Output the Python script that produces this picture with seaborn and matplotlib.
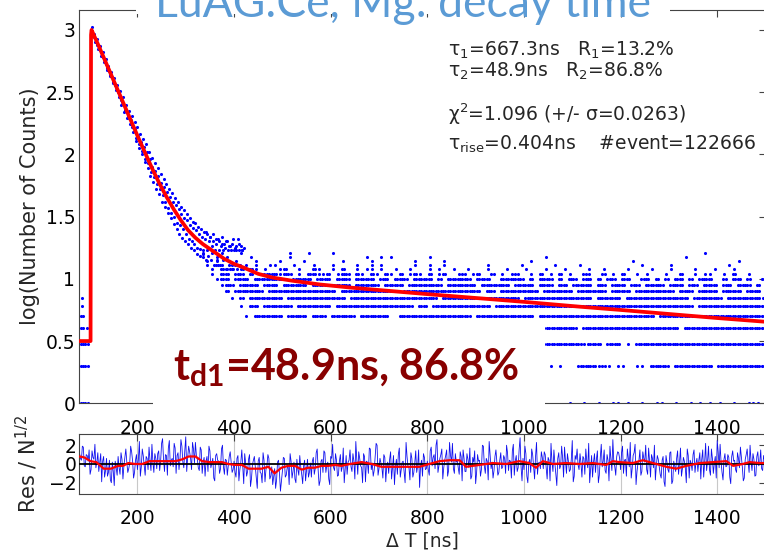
import numpy as np
import matplotlib
matplotlib.use("Agg")
import matplotlib.pyplot as plt
import seaborn as sns
from matplotlib.patches import Rectangle
from matplotlib.ticker import FuncFormatter

# ---- fitted curve (red) ----
fit_t = [80, 103, 104, 105, 120, 140, 160, 180, 200, 215, 230, 245, 260, 275, 290,
         305, 320, 335, 350, 365, 380, 400, 420, 450, 480, 520, 577, 640, 700, 800,
         907, 1000, 1116, 1200, 1323, 1400, 1500]
fit_log = [0.50, 0.50, 2.96, 3.00, 2.87, 2.69, 2.51, 2.33, 2.15, 2.02, 1.89, 1.77, 1.66,
           1.56, 1.47, 1.39, 1.33, 1.28, 1.24, 1.20, 1.16, 1.12, 1.09, 1.04, 1.01, 0.985,
           0.955, 0.93, 0.91, 0.877, 0.844, 0.815, 0.776, 0.75, 0.71, 0.685, 0.655]

# ---- data points in the fast decay (high counts) ----
decay_t = list(range(105, 421, 3))
decay_log = [3.02, 2.96, 2.94, 2.91, 2.88, 2.86, 2.84, 2.80, 2.78, 2.75,
             2.73, 2.69, 2.67, 2.64, 2.62, 2.58, 2.56, 2.54, 2.50, 2.49,
             2.44, 2.42, 2.41, 2.36, 2.35, 2.31, 2.29, 2.28, 2.22, 2.21,
             2.20, 2.13, 2.15, 2.08, 2.10, 2.03, 2.06, 1.96, 2.02, 1.93,
             1.96, 1.86, 1.90, 1.82, 1.87, 1.76, 1.83, 1.72, 1.77, 1.67,
             1.74, 1.62, 1.70, 1.57, 1.66, 1.53, 1.62, 1.50, 1.59, 1.45,
             1.56, 1.43, 1.52, 1.40, 1.49, 1.36, 1.47, 1.32, 1.43, 1.30,
             1.41, 1.28, 1.39, 1.25, 1.36, 1.24, 1.34, 1.23, 1.32, 1.38,
             1.23, 1.30, 1.34, 1.26, 1.30, 1.23, 1.28, 1.32, 1.23, 1.26,
             1.28, 1.23, 1.25, 1.30, 1.23, 1.26, 1.23, 1.28, 1.23, 1.25,
             1.23, 1.32, 1.23, 1.26, 1.23, 1.25]
decay2_t = list(range(107, 421, 3))
decay2_log = [2.95, 2.97, 2.90, 2.93, 2.85, 2.87, 2.79, 2.82, 2.74, 2.77,
              2.68, 2.71, 2.63, 2.66, 2.57, 2.61, 2.52, 2.56, 2.46, 2.51,
              2.40, 2.46, 2.34, 2.40, 2.29, 2.35, 2.24, 2.31, 2.18, 2.26,
              2.11, 2.22, 2.05, 2.16, 2.00, 2.12, 1.94, 2.08, 1.89, 2.02,
              1.83, 1.97, 1.78, 1.93, 1.72, 1.89, 1.68, 1.84, 1.62, 1.80,
              1.58, 1.76, 1.53, 1.72, 1.49, 1.69, 1.44, 1.65, 1.40, 1.62,
              1.36, 1.58, 1.33, 1.55, 1.30, 1.52, 1.28, 1.49, 1.25, 1.46,
              1.23, 1.45, 1.20, 1.42, 1.18, 1.40, 1.20, 1.38, 1.15, 1.36,
              1.18, 1.34, 1.15, 1.36, 1.11, 1.32, 1.15, 1.30, 1.11, 1.34,
              1.15, 1.28, 1.08, 1.30, 1.11, 1.26, 1.08, 1.32, 1.11, 1.26,
              1.08, 1.28, 1.11, 1.23, 1.08]

# ---- low-count levels: occupancy per 10 ns bin starting at 80 ns ----
# '#' = run of points across the bin, ':' = single point, '.' = empty
bin_start, bin_width = 80, 10
level_counts = [1, 2, 3, 4, 5, 6, 7, 8, 9, 10, 11, 12, 13, 14, 15, 16]
E = ".........."
level_rows = [
    ["##........", E, E, ".......:..", ".:........", E, "..:......:", "..:::.....", ":.........", E,
     ".:..:..:..", "::.:..:..:", ":..:..:.:.", ":.:..:..::", ":."],
    ["##........", E, E, E, E, E, E, E, E, ".......:.:",
     "...####:#:", ".::..::.##", "##.#######", "#.########", "##"],
    ["##........", E, E, E, E, E, E, E, E, "......####",
     "####:###.#", "##.:.#####", "##########", "##########", "##"],
    ["#:........", E, E, E, E, E, E, E, E, "......####",
     "###.######", "##########", "####.#####", "##########", "##"],
    ["#.........", E, E, "....:.####", "##.####.##", "#.#####.##", "####..####", "##########", "#.########", "####.#####",
     "##########", "#########.", "##########", "##########", "##"],
    [":.........", E, E, "...:.##.##", "####.#####", "##.#######", "#########.", "##.#######", "#####.####", "##########",
     "###.######", "##########", "#######.##", "##########", "##"],
    [":.........", E, E, ".:.#.#####", "##.#######", "#####.####", "##########", "####.#####", "##########", "#.########",
     "######.###", "##.#######", "######.###", "###.######", "#:"],
    [E, E, E, "#.######.#", "##########", "###.######", "######.###", "##########", "###.##.###", "#####.####",
     "##.######.", "####.#####", "###.###.##", "##.####.##", "#."],
    [E, E, ".........:", "##.####.##", "#.#####.##", "######.###", "##.####.##", "#####.####", "##.######.", "####.###.#",
     "#.####.##.", "###.##.###", "#.###.##.#", "##.##.###.", "#."],
    [E, E, "........:#", "#.###.####", "###.####.#", "##.###.###", "#.##.###.#", "###.#.####", "#.###..###", "##.#.###.#",
     ".##.##.#.#", "#.##..##.#", ".#.##.#.##", "#..#.##.#.", ".#"],
    [E, E, ".......:.#", "#.##.#.:##", "#:##.:.##:", ":#.:##.#:.", "#:.#:.#.:#", ":.#.:#..:#", ".:#..#.:.:", "#..:.#.:.#",
     ".:..#:..#.", ":.#..:.:..", ".:..#..:.:", ":..:.#..:.", ".."],
    [E, E, ".......:.#", ":#.:.#:.:.", ".:#..:..#:", "..:.#..:.:", ":.:..:..:.", "..:.:..:..", ":...:...:.", "..:...:...",
     ":....:..:.", "...:....:.", "..:....:..", ".:...:....", ".."],
    [E, E, "......:.#:", ".:..:.:..:", ":...:...:.", "..:....:..", ":.:......:", "..:..:....", "....:.....", ".:......:.",
     "...:......", "......:...", "..:.......", "....:.....", ".."],
    [E, E, "......:.:.", "..:...:...", ".:....:...", "....:.....", ":........:", ".....:....", E, "...:......",
     E, "....:.....", E, "......:...", ".."],
    [E, E, ".....:..:.", ":....:....", "...:......", ".........:", "..:.:.....", "..:.......", E, "......:...",
     E, E, ".....:....", E, ".."],
    [E, E, ".....:.:.:", "...:......", "...:...:..", "..:.......", E, E, E, E,
     E, E, ".........:", E, ".."],
]

# ---- residuals: two interleaved series, every 4 ns from 80 ns and from 82 ns ----
res_step = 4
res_a_start = 80
res_a = [1.2, 0.4, 1.8, -0.3, 0.9, 1.5, -0.6, 0.7, 2.1, 0.2, -0.8, 1.1, 0.3, -1.4, 0.6, -0.9, -1.7, 0.2, -2.3, -0.4,
         0.8, -1.1, 0.5, -0.2, 1.6, -0.9, 0.1, 1.3, -1.5, 0.4, -0.6, 2.4, -0.3, 0.9, -1.2, 0.6, 1.8, -0.7, 0.2, 1.1,
         -0.5, 1.4, 0.3, 2.7, -0.8, 0.9, 1.7, -0.2, 0.6, 2.2, -1.0, 1.2, 0.4, 1.9, -0.4, 2.9, 0.7, 1.3, -0.6, 1.6,
         2.3, 0.5, -0.7, 1.5, 0.2, -1.3, 0.8, 1.9, -0.4, 0.6, -1.8, 1.1, 0.3, -0.5, 2.0, -1.1, 0.4, -0.2, 1.3, -0.9,
         0.3, -1.4, 0.9, -0.6, 1.5, -2.1, 0.1, -0.8, 1.0, -1.6, 0.4, -0.3, -2.6, 0.7, -1.0, 1.2, -1.9, -0.2, 0.6, -1.3,
         -2.2, -0.5, -1.7, 0.4, -2.9, -0.8, 0.6, -1.2, -0.3, 1.1, -1.5, 0.2, -2.0, -0.6, 0.9, -1.1, -0.2, -1.8, 0.5, -0.9,
         -1.4, 0.7, -0.5, 1.6, -2.3, 0.3, -0.9, 1.2, -0.1, -1.6, 0.8, 2.1, -0.7, 0.4, -1.2, 1.0, -0.3, -2.0, 0.9, 0.2,
         1.5, -0.8, 0.3, 2.4, -1.1, 0.6, -0.4, 1.1, -1.9, 0.2, 1.7, -0.6, -1.3, 0.8, 2.0, -0.5, 0.1, -1.5, 0.7, -0.2,
         -1.0, 1.3, -0.4, -2.2, 0.5, 1.0, -1.4, 0.2, -0.8, 2.3, -0.3, -1.7, 0.6, -0.9, 1.4, -0.2, -2.5, 0.4, 1.1, -0.6,
         0.3, -1.2, 1.8, 0.7, -0.5, 2.6, -0.2, 1.0, -1.6, 0.4, 1.5, -0.7, 0.9, 2.2, -1.0, 0.2, -0.4, 1.3, -1.8, 0.6,
         -0.8, 0.5, 1.7, -1.3, 0.2, -2.1, 1.0, 0.4, -0.6, 1.9, -1.0, 0.3, 2.4, -0.5, -1.5, 0.8, 0.1, -0.9, 1.2, -0.3,
         0.6, 2.0, -0.7, 0.3, 1.4, -1.2, 0.9, -0.4, 2.8, -1.8, -0.6, 1.1, -2.0, 0.5, 1.6, -0.3, 0.8, -1.1, 0.2, 1.3,
         -0.5, 1.0, -1.6, 0.4, 2.2, -0.8, 0.1, -2.3, 1.2, -0.2, 0.7, 1.8, -1.0, 0.3, -0.6, 2.5, -1.3, 0.5, -0.1, 1.1,
         -1.4, 0.6, 1.6, -0.4, -2.0, 0.9, 0.2, -0.9, 1.4, -1.2, 2.1, 0.3, -0.7, 1.0, -1.8, 0.5, 2.6, -0.3, 0.8, 1.2,
         -0.6, 1.9, 0.4, -1.3, 0.7, 2.3, -0.5, 1.2, -2.2, 0.1, 1.5, -0.8, 0.6, 2.0, -1.1, 0.3, 1.0, -0.4, -1.7, 0.9,
         -0.3, -1.5, 0.8, -2.4, 0.2, -0.9, 1.3, -1.8, -0.2, 0.6, -1.1, 1.7, -0.5, 0.3, -2.0, 0.9, 0.4, -0.7, 1.5, 0.1,
         -0.8, 1.2, 0.5, -1.4, 2.2, 0.3, -0.6, 1.6, -1.0, 0.8, 2.5, -0.4, 0.2, -1.7, 1.1, -0.2, 0.7, -2.1, 1.4, 0.4,
         -0.9, 0.6, 1.8, -0.3, -1.5, 1.0, 0.2, 2.0, -0.7, 0.5, -1.2, 1.3, 0.1, -0.5, 0.9]
res_b_start = 82
res_b = [0.6, 1.9, -0.2, 1.0, 0.3, -1.1, 1.4, 0.5, -0.4, 1.2, 0.1, -1.9, 0.8, -0.7, -1.3, 0.4, -2.0, -0.8, 0.3, -1.2,
         -0.4, 1.2, -1.6, 0.7, 0.2, -0.5, 1.9, 0.3, -0.9, 1.0, 0.5, -1.3, 1.6, -0.1, 0.8, -0.6, 0.4, 2.1, -0.9, 0.6,
         1.1, -0.7, 2.2, 0.5, 1.0, -1.2, 2.5, 0.4, -0.3, 1.7, 0.9, -0.6, 2.6, 0.2, 1.4, -0.8, 1.9, 0.6, 2.3, 0.1,
         0.9, -0.4, 1.8, -1.0, 0.7, 0.3, -0.8, 1.4, 0.1, -1.5, 0.9, 0.4, -1.0, 1.6, -0.3, 0.5, -1.2, 0.8, 0.2, -0.6,
         -0.9, 0.6, -1.8, 0.2, -0.4, 1.1, -1.3, 0.5, -2.4, -0.1, 0.8, -1.5, 0.3, -0.9, -2.0, 0.4, -0.6, 1.0, -1.6, -0.3,
         -1.3, -2.6, 0.2, -1.0, -1.8, 0.7, -1.4, -0.4, -2.2, 0.3, -0.8, -1.6, 0.5, -1.2, -0.3, -2.1, 0.4, -0.7, -1.4, 0.1,
         0.3, -1.1, 1.2, -0.6, -1.8, 0.5, 1.4, -0.9, 0.2, -2.2, 0.6, -0.4, 1.1, -1.3, 0.3, -0.8, 1.7, -0.5, -1.1, 0.4,
         -0.3, 1.1, -1.6, 0.5, 1.3, -0.2, -2.0, 0.8, 0.3, -1.0, 1.6, 0.1, -0.7, 2.2, -1.2, 0.6, -0.4, 1.0, -1.9, 0.2,
         0.5, -1.6, 0.9, -0.3, -1.1, 1.7, -0.6, 0.3, -2.0, 0.8, -0.4, 1.2, -1.4, 0.1, -0.9, 1.5, -0.2, -1.3, 0.7, -0.5,
         -0.6, 1.4, -0.2, 1.0, 2.0, -0.9, 0.6, 1.6, -0.4, 0.9, -1.3, 2.3, 0.2, -0.5, 1.1, 0.4, -1.1, 0.8, 1.5, -0.8,
         1.1, -0.4, -1.6, 0.7, 1.4, -0.9, 0.3, -1.3, 2.0, -0.2, 0.6, -1.7, 1.0, 0.2, -0.7, 1.5, -1.2, 0.4, -0.5, 0.9,
         -1.0, 1.2, 0.4, -1.5, 2.1, 0.3, -0.8, 1.5, -0.3, 0.6, 1.9, -1.3, 0.2, -0.9, 1.0, -1.6, 2.3, 0.1, -0.5, 0.7,
         1.3, -0.4, 0.7, -1.8, 0.2, 1.5, -1.1, 0.6, -0.5, 1.9, -1.4, 0.3, 1.1, -0.8, 0.5, -1.9, 0.9, 1.6, -0.6, 0.1,
         0.8, -1.1, 0.3, 2.2, -0.6, -1.4, 1.1, 0.5, -2.0, 0.7, -0.3, 1.5, -1.0, 0.4, 1.9, -0.7, 0.2, -1.2, 1.3, 0.6,
         1.2, -1.0, 0.5, 1.6, -0.3, -1.5, 0.9, 2.1, -0.8, 0.4, -1.2, 1.3, 0.2, -0.6, 1.7, -1.4, 0.6, 2.0, -0.2, 0.5,
         -1.1, 0.4, -1.9, 0.9, -0.6, 1.2, -2.1, 0.3, -0.8, 1.4, 0.2, -1.3, 0.7, -0.4, 1.6, -1.5, 0.1, 1.0, -0.9, 0.6,
         0.4, -1.6, 1.5, 0.2, -0.7, 1.9, -1.2, 0.6, 0.1, -1.5, 1.3, 2.1, -0.9, 0.5, -0.3, 1.0, -1.4, 0.8, 0.3, -0.6,
         1.2, -0.4, 0.7, -1.8, 0.5, 1.6, -0.9, 0.3, 1.1, -1.3, 0.8, -0.2, 1.5, -0.7, 0.4]

# smoothed residual (red)
rs_t = [80, 90, 103, 115, 130, 145, 160, 170, 181, 195, 210, 225, 245, 265, 279, 293, 306, 320, 334, 350,
        375, 388, 402, 416, 430, 457, 471, 484, 498, 512, 526, 540, 553, 567, 581, 595, 609, 622, 640, 664,
        685, 705, 733, 756, 784, 804, 825, 846, 867, 880, 908, 935, 963, 990, 1011, 1025, 1039, 1060, 1087, 1115,
        1142, 1170, 1184, 1198, 1225, 1246, 1267, 1295, 1315, 1336, 1364, 1391, 1419, 1433, 1453, 1467, 1488, 1500]
rs_v = [0.8, 0.7, 0.3, 0.2, -0.5, -0.5, -0.2, -0.2, 0.1, 0.0, 0.0, 0.3, 0.3, 0.3, 0.3, 0.5, 0.8, 0.8, 0.3, 0.2,
        0.2, 0.0, -0.1, -0.1, -0.5, -0.5, -0.3, -1.0, -0.4, -0.2, -0.2, -0.6, -0.4, -0.4, -0.2, -0.2, -0.1, -0.2, 0.0, 0.2,
        0.0, -0.3, -0.3, -0.3, -0.3, 0.0, 0.3, 0.4, 0.4, -0.3, -0.1, 0.1, 0.0, 0.3, 0.1, -0.4, 0.3, 0.0, 0.1, 0.0,
        0.1, -0.1, 0.3, 0.2, 0.1, 0.4, 0.1, -0.3, -0.5, -0.2, 0.1, 0.2, 0.3, -0.2, 0.0, 0.2, 0.1, 0.1]

fit_text = ["τ$_1$=667.3ns   R$_1$=13.2%",
            "τ$_2$=48.9ns   R$_2$=86.8%",
            "χ$^2$=1.096 (+/- σ=0.0263)",
            "τ$_{\\rm rise}$=0.404ns    #event=122666"]
fit_text_y = [0.883, 0.830, 0.7185, 0.644]

# expand level rows into points
pts_t = list(decay_t) + list(decay2_t)
pts_y = list(decay_log) + list(decay2_log)
for n, groups in zip(level_counts, level_rows):
    row = "".join(groups)
    for i, ch in enumerate(row):
        t0 = bin_start + bin_width * i
        if ch == "#":
            ts = [t0 + 2.5, t0 + 7.5]
        elif ch == ":":
            ts = [t0 + 5]
        else:
            continue
        pts_t += ts
        pts_y += [np.log10(n)] * len(ts)

res_pairs = sorted([(res_a_start + res_step * i, v) for i, v in enumerate(res_a)] +
                   [(res_b_start + res_step * i, v) for i, v in enumerate(res_b)])
res_t = [p[0] for p in res_pairs]
res_v = [p[1] for p in res_pairs]

sns.set_theme(style="white")
plt.rcParams["font.family"] = ["DejaVu Sans"]
plt.rcParams["mathtext.fontset"] = "custom"
plt.rcParams["mathtext.rm"] = "DejaVu Sans"
plt.rcParams["mathtext.it"] = "DejaVu Sans:italic"
plt.rcParams["mathtext.bf"] = "Lato:bold"

fig = plt.figure(figsize=(7.64, 5.52), dpi=100)
ax = fig.add_axes([0.104, 0.2694, 0.898, 0.7125])
ax2 = fig.add_axes([0.104, 0.1051, 0.898, 0.1087])

FS = 13.5
edge = "#444444"
for a in (ax, ax2):
    for s in a.spines.values():
        s.set_visible(True)
        s.set_color(edge)
        s.set_linewidth(0.8)
    a.tick_params(direction="in", top=True, right=True, length=5, width=0.8,
                  color=edge, labelcolor="black", labelsize=FS)
    a.tick_params(axis="x", pad=11)
    a.tick_params(axis="y", pad=3)

# main panel
sns.scatterplot(x=pts_t, y=pts_y, s=5, color="blue", linewidth=0, ax=ax, zorder=2)
sns.lineplot(x=fit_t, y=fit_log, color="red", lw=2.7, sort=False, estimator=None, ax=ax, zorder=3)
ax.set_xlim(80, 1500)
ax.set_ylim(0, 3.16)
ax.set_xticks(range(200, 1401, 200))
ax.set_yticks([0, 0.5, 1, 1.5, 2, 2.5, 3])
ax.yaxis.set_major_formatter(FuncFormatter(lambda v, p: f"{v:g}"))
ax.set_xlabel("")
ax.set_ylabel("log(Number of Counts)", fontsize=15)
ax.yaxis.set_label_coords(-0.057, 0.5)

for line, yy in zip(fit_text, fit_text_y):
    ax.text(0.537, yy, line, transform=ax.transAxes, fontsize=FS, va="baseline", ha="left")

# residual panel
ax2.grid(axis="x", color="#c8c8c8", lw=0.8)
sns.lineplot(x=res_t, y=res_v, color="#1010ee", lw=0.6, ax=ax2, zorder=2)
ax2.axhline(0, color="black", lw=1.3, zorder=3)
sns.lineplot(x=rs_t, y=rs_v, color="red", lw=1.6, ax=ax2, zorder=4)
ax2.set_xlim(80, 1500)
ax2.set_ylim(-3.2, 3.2)
ax2.set_xticks(range(200, 1401, 200))
ax2.set_yticks([-2, 0, 2])
ax2.tick_params(axis="y", pad=2)
ax2.set_xlabel("Δ T [ns]", fontsize=FS, labelpad=2)
ax2.set_ylabel("Res / N$^{1/2}$", fontsize=15)
ax2.yaxis.set_label_coords(-0.057, 0.5)

# slide overlays: title box and highlighted lifetime
fig.patches.append(Rectangle((136 / 764, (552 - 14) / 552), (670 - 136) / 764, 14 / 552,
                             transform=fig.transFigure, facecolor="white", edgecolor="none", zorder=5))
fig.text(155 / 764, (552 - 17) / 552, "LuAG:Ce, Mg: decay time", fontsize=32, color="#5B9BD5",
         family="Lato", ha="left", va="baseline", zorder=6)
fig.patches.append(Rectangle((153 / 764, (552 - 404.5) / 552), (545 - 153) / 764, (404.5 - 321) / 552,
                             transform=fig.transFigure, facecolor="white", edgecolor="none", zorder=5))
fig.text(173 / 764, (552 - 380) / 552, r"$\mathbf{t_{d1}}$=48.9ns, 86.8%", fontsize=31,
         color="#880000", family="Lato", weight="bold", ha="left", va="baseline", zorder=6)

fig.savefig("out.png", dpi=100)
